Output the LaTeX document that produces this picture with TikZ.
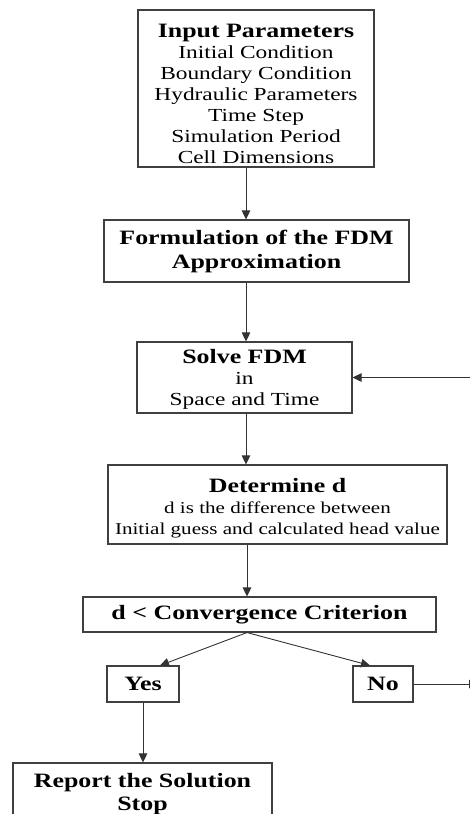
\documentclass[tikz,border=0pt]{standalone}
\usepackage{fontspec}
\setmainfont{Liberation Serif}[FakeStretch=1.27]
\usetikzlibrary{arrows.meta}
\begin{document}
\begin{tikzpicture}[x=1pt,y=-1pt,
  box/.style={draw=black!75,line width=1.1pt,fill=white,inner sep=0pt},
  txt/.style={inner sep=0pt,align=center,font=\fontsize{18.4}{21}\selectfont},
  arr/.style={draw=black!80,line width=0.9pt,-{Triangle[length=9pt,width=8.5pt]}}]
\useasboundingbox (0,0) rectangle (470,814);
\clip (0,0) rectangle (470,814);
\newcommand\hdf{\fontsize{20.4}{21}\selectfont\bfseries}
\coordinate (axis) at (246,0);
\node[box,minimum width=236pt,minimum height=157pt] (b1) at (256,88.5) {};
\node[txt,yshift=-5pt] (t1) at (b1)
  {{\hdf Input Parameters}\\Initial Condition\\Boundary Condition\\Hydraulic Parameters\\Time Step\\Simulation Period\\Cell Dimensions};
\node[box,minimum width=305pt,minimum height=62pt] (b2) at (256.5,251) {};
\node[txt] (t2) at (b2) {{\hdf Formulation of the FDM}\\[3pt]{\hdf Approximation}};
\node[box,minimum width=215pt,minimum height=71pt] (b3) at (244.5,377.5) {};
\node[txt,yshift=-2pt] (t3) at (b3) {{\hdf Solve FDM}\\in\\Space and Time};
\node[box,minimum width=339pt,minimum height=79pt] (b4) at (277.5,504.5) {};
\node[txt,yshift=-4pt,font=\fontsize{16.6}{21}\selectfont] (t4) at (b4)
  {{\hdf Determine d}\\d is the difference between\\Initial guess and calculated head value};
\node[box,minimum width=353pt,minimum height=35pt] (b5) at (259.5,614.5) {};
\node[txt] (t5) at (b5) {\hdf d < Convergence Criterion};
\node[box,minimum width=72pt,minimum height=36pt] (yes) at (143,684) {};
\node[txt] (ty) at (yes) {\hdf Yes};
\node[box,minimum width=60pt,minimum height=36pt] (no) at (383,684) {};
\node[txt] (tn) at (no) {\hdf No};
\node[box,minimum width=259pt,minimum height=58pt] (rep) at (142.5,792) {};
\node[txt,yshift=-2pt] (tr) at (rep) {{\hdf Report the Solution}\\[2pt]{\hdf Stop}};
\coordinate (fb) at (471,377.5);
\coordinate (noend) at (478,684);
\draw[arr] (b1.south -| axis) -- (b2.north -| axis);
\draw[arr] (b2.south -| axis) -- (b3.north -| axis);
\draw[arr] (b3.south -| axis) -- (b4.north -| axis);
\draw[arr] ([xshift=1pt]b4.south -| axis) -- ([xshift=1pt]b5.north -| axis);
\draw[arr] ([xshift=1pt]b5.south -| axis) -- ([xshift=17pt]yes.north);
\draw[arr] ([xshift=1pt]b5.south -| axis) -- ([xshift=-13pt]no.north);
\draw[arr] (yes.south) -- (rep.north -| yes.south);
\draw[arr] (no.east) -- (noend);
\draw[arr] (fb) -- (b3.east);
\end{tikzpicture}
\end{document}
